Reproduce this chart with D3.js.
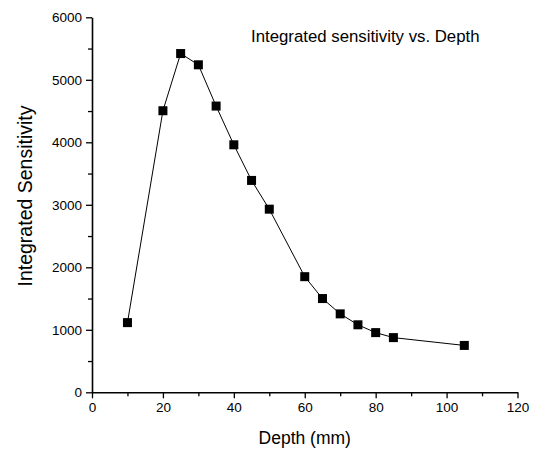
<!DOCTYPE html>
<html>
<head>
<meta charset="utf-8">
<script src="https://cdn.jsdelivr.net/npm/d3@7"></script>
<style>
  body { margin: 0; background: #fff; }
  text { font-family: "Liberation Sans", Arial, sans-serif; fill: #000; }
</style>
</head>
<body>
<div class="canvas"></div>
<script>
// data
const depth = [10, 20, 25, 30, 35, 40, 45, 50, 60, 65, 70, 75, 80, 85, 105]
const sensitivity = [1115, 4505, 5420, 5240, 4580, 3960, 3390, 2930, 1850, 1500, 1255, 1080, 955, 875, 750]
const xTicks = [0, 20, 40, 60, 80, 100, 120]
const yTicks = [0, 1000, 2000, 3000, 4000, 5000, 6000]

const dims = { width: 536, height: 452 }
const margin = { left: 92, right: 18.5, top: 17.3, bottom: 59.7 }

const svg = d3.select(".canvas")
    .append("svg")
    .attr("width", dims.width)
    .attr("height", dims.height)

const x = d3.scaleLinear()
    .domain([0, 120])
    .range([margin.left, dims.width - margin.right])

const y = d3.scaleLinear()
    .domain([0, 6000])
    .range([dims.height - margin.bottom, margin.top])

// minor ticks
const xMinor = d3.range(10, 120, 20)
const yMinor = d3.range(500, 6000, 1000)

const xAxis = svg.append("g")
    .attr("transform", `translate(0, ${y(0)})`)

xAxis.append("g")
    .call(d3.axisBottom(x).tickValues(xMinor).tickSize(4).tickFormat(""))
    .call(g => g.select(".domain").remove())

xAxis.append("g")
    .call(d3.axisBottom(x).tickValues(xTicks).tickSize(6).tickSizeOuter(0).tickPadding(4))

const yAxis = svg.append("g")
    .attr("transform", `translate(${x(0)}, 0)`)

yAxis.append("g")
    .call(d3.axisLeft(y).tickValues(yMinor).tickSize(4).tickFormat(""))
    .call(g => g.select(".domain").remove())

yAxis.append("g")
    .call(d3.axisLeft(y).tickValues(yTicks).tickSize(6).tickSizeOuter(0).tickPadding(4).tickFormat(d3.format("d")))

svg.selectAll(".tick line").attr("stroke", "#000").attr("stroke-width", 1.3)
svg.selectAll(".domain").attr("stroke", "#000").attr("stroke-width", 1.6)
svg.selectAll(".tick text")
    .attr("font-size", 13.5)
    .attr("font-family", "'Liberation Sans', Arial, sans-serif")
    .attr("fill", "#000")

// data line
const points = depth.map((d, i) => ({ depth: d, value: sensitivity[i] }))

svg.append("path")
    .datum(points)
    .attr("fill", "none")
    .attr("stroke", "#000")
    .attr("stroke-width", 1)
    .attr("d", d3.line()
        .x(d => x(d.depth))
        .y(d => y(d.value))
    )

const size = 9
svg.selectAll(".marker")
    .data(points)
    .enter()
    .append("rect")
    .attr("class", "marker")
    .attr("x", d => x(d.depth) - size / 2)
    .attr("y", d => y(d.value) - size / 2)
    .attr("width", size)
    .attr("height", size)
    .attr("fill", "#000")

// titles
svg.append("text")
    .attr("x", (x(0) + x(120)) / 2)
    .attr("y", 444)
    .attr("text-anchor", "middle")
    .attr("font-size", 17.5)
    .text("Depth (mm)")

svg.append("text")
    .attr("transform", `translate(32, 196) rotate(-90)`)
    .attr("text-anchor", "middle")
    .attr("font-size", 19.5)
    .text("Integrated Sensitivity")

svg.append("text")
    .attr("x", 251)
    .attr("y", 42)
    .attr("font-size", 16.8)
    .text("Integrated sensitivity vs. Depth")
</script>
</body>
</html>
